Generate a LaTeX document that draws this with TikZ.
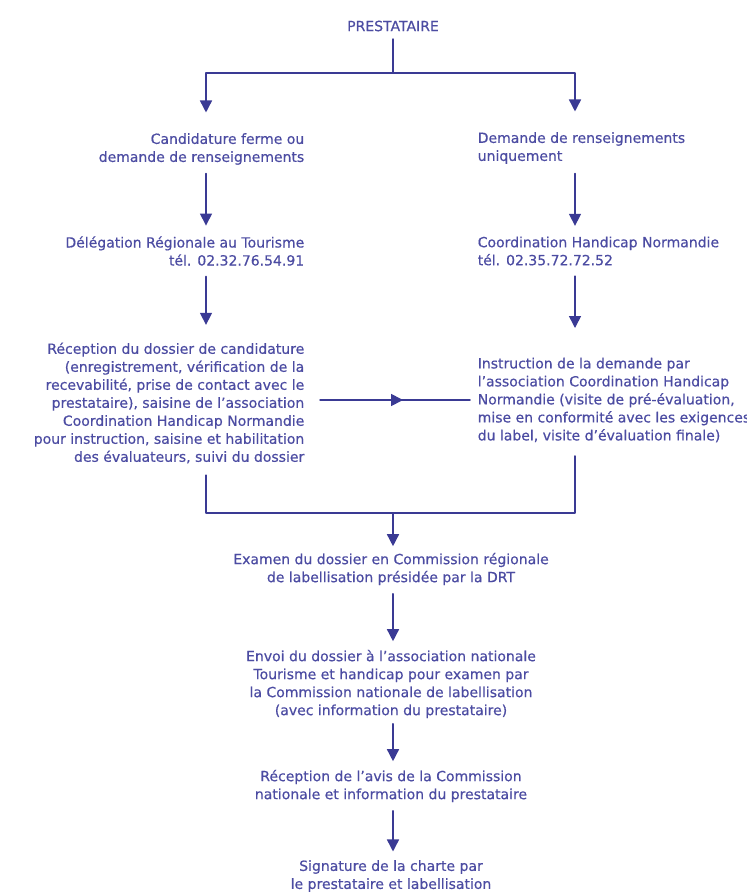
\documentclass[tikz,border=0pt]{standalone}
\usepackage{fontspec}
\setmainfont{DejaVu Sans}
\newfontfamily\etapefont{DejaVu Sans}[Ligatures=TeX,FakeBold=0.5]
\usetikzlibrary{arrows.meta,decorations.markings}
\definecolor{txtblue}{RGB}{76,76,162}
\definecolor{lineblue}{RGB}{58,58,148}
\tikzset{
  etape/.style={inner sep=0pt,text=txtblue,font=\fontsize{14}{18}\etapefont},
  gauche/.style={etape,anchor=east,align=right},
  droite/.style={etape,anchor=west,align=left},
  centre/.style={etape,align=center},
  midarrow/.style={decoration={markings,mark=at position 0.57 with {\arrow{Triangle[length=12pt,width=12pt]}}},postaction={decorate}}
}

\begin{document}
\begin{tikzpicture}[line cap=round,line join=round,>={Triangle[length=12pt,width=12pt]},x=1pt,y=-1pt,line width=1.5pt,color=lineblue]
\useasboundingbox (0,0) rectangle (747,892);
\node[centre] (prest) at (393,26) {PRESTATAIRE};
\node[gauche] (cand) at (305,149) {Candidature ferme ou\\demande de renseignements};
\node[droite] (demande) at (477,148) {Demande de renseignements\\uniquement};
\node[gauche] (deleg) at (305,251) {Délégation Régionale au Tourisme\\tél. 02.32.76.54.91};
\node[droite] (coord) at (477,251) {Coordination Handicap Normandie\\tél. 02.35.72.72.52};
\node[gauche] (recep) at (305,403) {Réception du dossier de candidature\\(enregistrement, vérification de la\\recevabilité, prise de contact avec le\\prestataire), saisine de l'association\\Coordination Handicap Normandie\\pour instruction, saisine et habilitation\\des évaluateurs, suivi du dossier};
\node[droite] (instr) at (477,400) {Instruction de la demande par\\l'association Coordination Handicap\\Normandie (visite de pré-évaluation,\\mise en conformité avec les exigences\\du label, visite d'évaluation finale)};
\node[centre] (examen) at (391,569) {Examen du dossier en Commission régionale\\de labellisation présidée par la DRT};
\node[centre] (envoi) at (391,684) {Envoi du dossier à l'association nationale\\Tourisme et handicap pour examen par\\la Commission nationale de labellisation\\(avec information du prestataire)};
\node[centre] (avis) at (391,786) {Réception de l'avis de la Commission\\nationale et information du prestataire};
\node[centre] (sign) at (391,876) {Signature de la charte par\\le prestataire et labellisation};
\coordinate (lx) at (206,0);
\coordinate (rx) at (575,0);
\coordinate (jt) at (393,73);
\coordinate (jb) at (393,513);
% branches du haut
\draw[shorten <=7pt] (prest) -- (jt);
\draw[->,shorten >=20pt] (jt) -| (lx |- cand.north);
\draw[->,shorten >=20pt] (jt) -| (rx |- demande.north);
\draw[->,shorten <=8pt,shorten >=10pt] (lx |- cand.south) -- (lx |- deleg.north);
\draw[->,shorten <=9pt,shorten >=10pt] (rx |- demande.south) -- (rx |- coord.north);
\draw[->,shorten <=10pt,shorten >=17pt] (lx |- deleg.south) -- (lx |- recep.north);
\draw[->,shorten <=10pt,shorten >=29pt] (rx |- coord.south) -- (rx |- instr.north);
\draw[midarrow,shorten <=15pt,shorten >=7pt] (recep.east |- instr.west) -- (instr.west);
% regroupement
\draw[shorten <=11pt,shorten >=13pt] (lx |- recep.south) |- (jb) -| (rx |- instr.south);
\draw[->,shorten >=6pt] (jb) -- (jb |- examen.north);
\draw[->,shorten <=8pt,shorten >=8pt] (jb |- examen.south) -- (jb |- envoi.north);
\draw[->,shorten <=5pt,shorten >=8pt] (jb |- envoi.south) -- (jb |- avis.north);
\draw[->,shorten <=8pt,shorten >=8pt] (jb |- avis.south) -- (jb |- sign.north);
\end{tikzpicture}
\end{document}
